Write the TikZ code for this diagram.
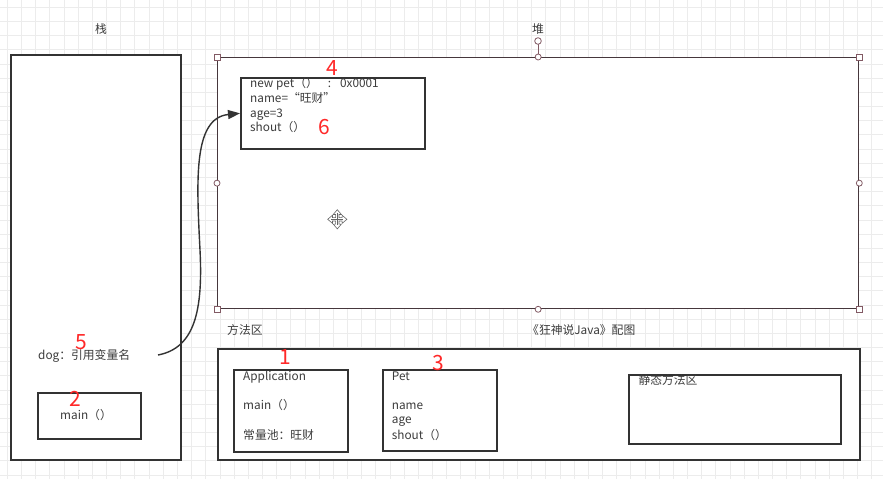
\documentclass[tikz,border=0pt]{standalone}
\usepackage{fontspec}
\setmainfont{Noto Sans CJK SC}
\usetikzlibrary{arrows.meta}
\definecolor{gridcol}{RGB}{236,236,236}
\definecolor{boxline}{RGB}{51,51,51}
\definecolor{textgray}{RGB}{60,60,60}
\definecolor{numred}{RGB}{255,40,40}
\definecolor{handlecol}{RGB}{130,90,100}
\definecolor{heapline}{RGB}{70,55,60}
\begin{document}
\begin{tikzpicture}[x=1pt,y=-1pt,
  box/.style={draw=boxline, line width=1.7pt, fill=white, inner sep=0pt, anchor=north west},
  txt/.style={inner sep=0pt, anchor=west, text height=8.5pt, text depth=2.5pt,
    font=\fontsize{11.8}{13}\selectfont, text=textgray},
  ctxt/.style={txt, anchor=center},
  num/.style={inner sep=0pt, text depth=0pt, text=numred, font=\fontsize{21}{24}\selectfont},
  handle/.style={draw=handlecol, line width=0.8pt, fill=white},
  link/.style={draw=boxline, line width=1.4pt, -{Triangle[length=12pt,width=9pt]}},
]
\useasboundingbox (0,0) rectangle (883,479);
\fill[white] (0,0) rectangle (883,479);

% background grid
\foreach \i in {0,...,62}
  \draw[gridcol, line width=0.7pt] ({7.3+14.17*\i},0) -- ({7.3+14.17*\i},479);
\foreach \j in {0,...,33}
  \draw[gridcol, line width=0.7pt] (0,{7.3+14.17*\j}) -- (883,{7.3+14.17*\j});

% stack
\node[box, minimum width=170pt, minimum height=405pt] (stack) at (10,54) {};
\node[ctxt] (stacklbl) at (101,30) {栈};
\node[box, minimum width=103pt, minimum height=46pt] (mainframe) at (37,392) {};
\node[ctxt] (maintxt) at (86,416) {main（）};
\node[txt] (dog) at (38,356.5) {dog：引用变量名};
\coordinate (dogref) at (158,355);

% heap
\node[box, draw=heapline, line width=1.3pt, minimum width=641pt, minimum height=251pt] (heap) at (217,57) {};
\node[ctxt] (heaplbl) at (538,30) {堆};
\node[box, minimum width=184pt, minimum height=71pt] (petobj) at (240,77) {};
\node[txt] (objl1) at (250,84) {new pet（）\hspace{10pt}:\hspace{9pt}0x0001};
\node[txt] (objl2) at (250,99.3) {name=“旺财”};
\node[txt] (objl3) at (250,114) {age=3};
\node[txt] (objl4) at (250,128.7) {shout（）};

% selection handles on the heap
\draw[handlecol, line width=0.8pt] (heap.north) -- ++(0,-12.7);
\node[handle, circle, inner sep=0pt, minimum size=6.6pt] (rot) at (538,41) {};
\foreach \a in {north, south, east, west}
  \node[handle, circle, inner sep=0pt, minimum size=6pt] at (heap.\a) {};
\foreach \a in {north west, north east, south west, south east}
  \node[handle, rectangle, inner sep=0pt, minimum size=6pt] at (heap.\a) {};

% move cursor
\begin{scope}[shift={(337.3,219.3)}, scale=1.2]
  \draw[draw=gray!80!black, fill=white, line width=0.6pt]
    (1.4,1.4) -- (4,1.4) -- (4,3.4) -- (8,0) -- (4,-3.4) -- (4,-1.4) -- (1.4,-1.4)
    -- (1.4,-4) -- (3.4,-4) -- (0,-8) -- (-3.4,-4) -- (-1.4,-4) -- (-1.4,-1.4)
    -- (-4,-1.4) -- (-4,-3.4) -- (-8,0) -- (-4,3.4) -- (-4,1.4) -- (-1.4,1.4)
    -- (-1.4,4) -- (-3.4,4) -- (0,8) -- (3.4,4) -- (1.4,4) -- cycle;
  \draw[gray!80!black, line width=0.5pt] (-5,0) -- (5,0) (0,-5) -- (0,5);
\end{scope}

% reference from the stack to the object
\draw[link] (dogref) .. controls (195,348) and (203,310) .. (200,250)
  .. controls (196.5,180) and (193,118) .. (petobj.west);

% method area
\node[txt] (methlbl) at (227,331.7) {方法区};
\node[txt] (credit) at (527,331.7) {《狂神说Java》配图};
\node[box, minimum width=642pt, minimum height=111pt] (method) at (217,348) {};
\node[box, minimum width=114pt, minimum height=82pt] (appcls) at (233,369) {};
\node[txt] (appl1) at (243,377.3) {Application};
\node[txt] (appl2) at (243,406.7) {main（）};
\node[txt] (appl3) at (243,436) {常量池：旺财};
\node[box, minimum width=114pt, minimum height=81pt] (petcls) at (382,369) {};
\node[txt] (petl1) at (391.7,377.3) {Pet};
\node[txt] (petl2) at (391.7,406.7) {name};
\node[txt] (petl3) at (391.7,420.7) {age};
\node[txt] (petl4) at (391.7,436) {shout（）};
\node[box, minimum width=212pt, minimum height=69pt] (static) at (628,374) {};
\node[txt] (staticlbl) at (638.3,381.7) {静态方法区};

% step numbers
\node[num] (n1) at (285,356.7) {1};
\node[num] (n2) at (75,399.3) {2};
\node[num] (n3) at (438.3,363.3) {3};
\node[num] (n4) at (332.7,68.5) {4};
\node[num] (n5) at (81.7,341.7) {5};
\node[num] (n6) at (324,126.7) {6};
\end{tikzpicture}
\end{document}
